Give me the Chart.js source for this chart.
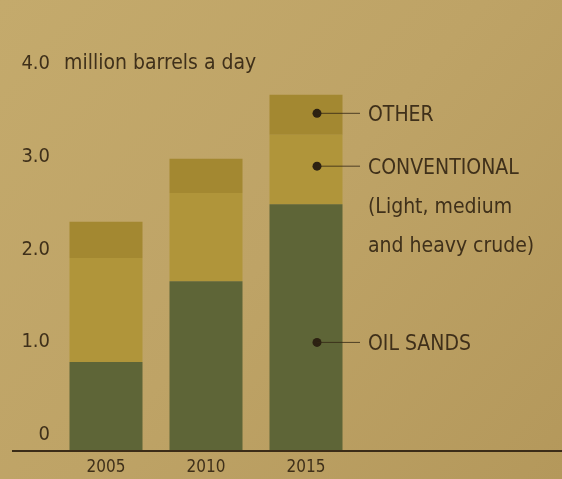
<!DOCTYPE html>
<html>
<head>
    <meta charset="UTF-8">
    <title>Canada crude output</title>
    <style>
        html, body { margin: 0; padding: 0; background: #b99e62; }
        #wrap { width: 562px; height: 479px; }
    </style>
</head>
<body>
<div id="wrap">
    <canvas id="chart" width="562" height="479"></canvas>
</div>
<script src="https://cdn.jsdelivr.net/npm/chart.js"></script>
<script>
    // data (million barrels a day)
    var years = ["2005", "2010", "2015"];
    var oilSands = [0.95, 1.82, 2.65];
    var conventional = [1.12, 0.95, 0.75];
    var other = [0.39, 0.37, 0.43];
    var yTicks = [0, 1, 2, 3, 4];
    var unitLabel = "million barrels a day";

    // labels next to the 2015 bar: text lines and the value where the dot sits
    var noteLines = [["OTHER"], ["CONVENTIONAL", "(Light, medium", "and heavy crude)"], ["OIL SANDS"]];
    var noteAt = [3.63, 3.06, 1.16];

    var font = "'DejaVu Sans Condensed', 'Liberation Sans Narrow', sans-serif";
    var ink = "rgba(52, 38, 20, 0.92)";

    var paper = {
        id: "paper",
        beforeDraw: function (chart) {
            var c = chart.ctx;
            var g = c.createLinearGradient(0, 0, chart.width, chart.height);
            g.addColorStop(0, "#c4aa6c");
            g.addColorStop(0.5, "#bea366");
            g.addColorStop(1, "#b4985b");
            c.save();
            c.fillStyle = g;
            c.fillRect(0, 0, chart.width, chart.height);
            c.restore();
        }
    };

    var notes = {
        id: "notes",
        afterDatasetsDraw: function (chart) {
            var c = chart.ctx;
            var x = chart.scales.x;
            var y = chart.scales.y;
            c.save();

            // baseline across the whole page
            var y0 = y.getPixelForValue(0);
            c.strokeStyle = "#3b2c18";
            c.lineWidth = 2;
            c.beginPath();
            c.moveTo(12, y0 + 1);
            c.lineTo(chart.width, y0 + 1);
            c.stroke();

            // unit next to the top tick
            c.fillStyle = ink;
            c.font = "21px " + font;
            c.textBaseline = "middle";
            c.textAlign = "left";
            c.fillText(unitLabel, 64, y.getPixelForValue(4) - 15);

            // dots, leaders and labels
            var dx = x.getPixelForValue(2) + 11;
            c.font = "21px " + font;
            for (var i = 0; i < noteLines.length; i++) {
                var py = y.getPixelForValue(noteAt[i]);
                c.fillStyle = "#2c2112";
                c.beginPath();
                c.arc(dx, py, 4.5, 0, Math.PI * 2);
                c.fill();
                c.strokeStyle = "rgba(50, 38, 20, 0.8)";
                c.lineWidth = 1;
                c.beginPath();
                c.moveTo(dx, py);
                c.lineTo(dx + 43, py);
                c.stroke();
                c.fillStyle = ink;
                for (var j = 0; j < noteLines[i].length; j++) {
                    c.fillText(noteLines[i][j], dx + 51, py + 2 + j * 39);
                }
            }
            c.restore();
        }
    };

    var ctx = document.getElementById("chart").getContext("2d");
    new Chart(ctx, {
        type: "bar",
        data: {
            labels: years,
            datasets: [
                { label: "Oil sands", data: oilSands, backgroundColor: "#5e6537" },
                { label: "Conventional", data: conventional, backgroundColor: "#b0953a" },
                { label: "Other", data: other, backgroundColor: "#a38831" }
            ]
        },
        options: {
            responsive: false,
            animation: false,
            layout: { padding: { top: 79, right: 206, left: 0, bottom: 0 } },
            datasets: {
                bar: { barPercentage: 0.73, categoryPercentage: 1, borderWidth: 0 }
            },
            scales: {
                x: {
                    stacked: true,
                    grid: { display: false, drawTicks: false },
                    border: { display: false },
                    ticks: { color: ink, font: { family: font, size: 17 }, padding: 7 },
                    afterFit: function (s) { s.height = 29; }
                },
                y: {
                    stacked: true,
                    min: 0,
                    max: 4,
                    afterBuildTicks: function (s) {
                        s.ticks = yTicks.map(function (v) { return { value: v }; });
                    },
                    grid: { display: false, drawTicks: false },
                    border: { display: false },
                    ticks: {
                        color: ink,
                        font: { family: font, size: 20 },
                        padding: 6,
                        labelOffset: -15,
                        callback: function (v) { return v === 0 ? "0" : v.toFixed(1); }
                    },
                    afterFit: function (s) { s.width = 56; }
                }
            },
            plugins: {
                legend: { display: false },
                tooltip: { enabled: false }
            }
        },
        plugins: [paper, notes]
    });
</script>
</body>
</html>
